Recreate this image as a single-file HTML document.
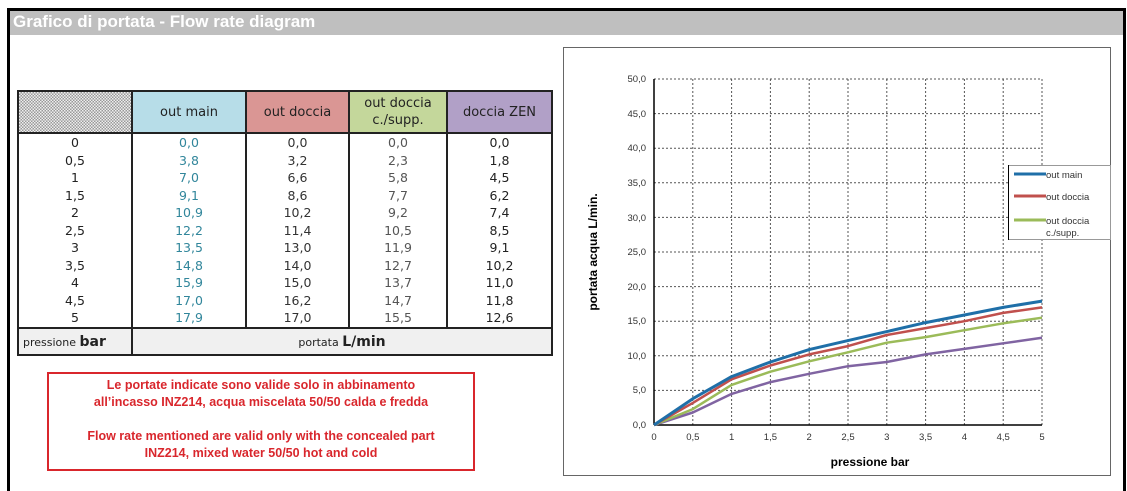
<!DOCTYPE html>
<html><head><meta charset="utf-8"><style>
body{margin:0;width:1127px;height:482px;background:#fff;position:relative;overflow:hidden;font-family:"Liberation Sans",sans-serif}
.abs{position:absolute}
table{border-collapse:collapse;position:absolute;left:17px;top:90px;font-family:"DejaVu Sans","Liberation Sans",sans-serif;font-size:12.5px;color:#222}
td{padding:0;text-align:center}
.hd td{height:40px;border:2px solid #222;font-size:13px}
.body td{border-left:2px solid #222;border-right:2px solid #222;line-height:17.5px;vertical-align:top}
.ft td{height:25px;border:2px solid #222;background:#f0f0f0}
</style></head><body>
<div class="abs" style="left:7px;top:8px;width:1113px;height:480px;border:3px solid #000;border-bottom:none"></div>
<div class="abs" style="left:10px;top:11px;width:1110px;height:24px;background:#bfbfbf;color:#fff;font-weight:bold;font-size:17px;line-height:22px;padding-left:3px">Grafico di portata - Flow rate diagram</div>

<table>
<tr class="hd"><td style="width:112px;background:repeating-conic-gradient(#999 0 25%,#eee 0 50%) 0 0/3px 3px"></td><td style="width:112px;background:#b7dde8">out main</td><td style="width:101px;background:#da9694">out doccia</td><td style="width:96px;background:#c4d79b;line-height:17px">out doccia<br>c./supp.</td><td style="width:103px;background:#b1a0c7">doccia ZEN</td></tr>
<tr class="body"><td style="padding-top:0;height:193px">0<br>0,5<br>1<br>1,5<br>2<br>2,5<br>3<br>3,5<br>4<br>4,5<br>5</td>
<td style="color:#31869b">0,0<br>3,8<br>7,0<br>9,1<br>10,9<br>12,2<br>13,5<br>14,8<br>15,9<br>17,0<br>17,9</td>
<td style="color:#333">0,0<br>3,2<br>6,6<br>8,6<br>10,2<br>11,4<br>13,0<br>14,0<br>15,0<br>16,2<br>17,0</td>
<td style="color:#555">0,0<br>2,3<br>5,8<br>7,7<br>9,2<br>10,5<br>11,9<br>12,7<br>13,7<br>14,7<br>15,5</td>
<td>0,0<br>1,8<br>4,5<br>6,2<br>7,4<br>8,5<br>9,1<br>10,2<br>11,0<br>11,8<br>12,6</td></tr>
<tr class="ft"><td style="font-size:11px;text-align:left;padding-left:4px">pressione <b style="font-size:14px">bar</b></td><td colspan="4" style="font-size:11px">portata <b style="font-size:14px">L/min</b></td></tr>
</table>

<div class="abs" style="left:47px;top:372px;width:424px;height:92px;border:2px solid #d9262c;color:#d9262c;font-weight:bold;font-size:12.5px;text-align:center;line-height:17px;padding-top:3px">Le portate indicate sono valide solo in abbinamento<br>all’incasso INZ214, acqua miscelata 50/50 calda e fredda<br><br>Flow rate mentioned are valid only with the concealed part<br>INZ214, mixed water 50/50 hot and cold</div>

<svg class="abs" style="left:0;top:0" width="1127" height="482" font-family="Liberation Sans,sans-serif">
<rect x="563.5" y="47.5" width="547" height="428" fill="none" stroke="#666"/>
<g stroke="#555" stroke-dasharray="2,2" stroke-width="1">
<line x1="654" x2="1042" y1="113.6" y2="113.6"/><line x1="654" x2="1042" y1="148.2" y2="148.2"/><line x1="654" x2="1042" y1="182.8" y2="182.8"/><line x1="654" x2="1042" y1="217.4" y2="217.4"/><line x1="654" x2="1042" y1="252" y2="252"/><line x1="654" x2="1042" y1="286.6" y2="286.6"/><line x1="654" x2="1042" y1="321.2" y2="321.2"/><line x1="654" x2="1042" y1="355.8" y2="355.8"/><line x1="654" x2="1042" y1="390.4" y2="390.4"/><line x1="654" x2="1042" y1="79" y2="79"/>
<line y1="79" y2="425" x1="692.8" x2="692.8"/><line y1="79" y2="425" x1="731.6" x2="731.6"/><line y1="79" y2="425" x1="770.4" x2="770.4"/><line y1="79" y2="425" x1="809.2" x2="809.2"/><line y1="79" y2="425" x1="848" x2="848"/><line y1="79" y2="425" x1="886.8" x2="886.8"/><line y1="79" y2="425" x1="925.6" x2="925.6"/><line y1="79" y2="425" x1="964.4" x2="964.4"/><line y1="79" y2="425" x1="1003.2" x2="1003.2"/><line y1="79" y2="425" x1="1042" x2="1042"/>
</g>
<line x1="654" x2="654" y1="79" y2="425" stroke="#000" stroke-width="1.5"/>
<line x1="654" x2="1042" y1="425" y2="425" stroke="#000" stroke-width="1.5"/>
<g font-size="9.5" fill="#333" text-anchor="end">
<text x="646" y="82">50,0</text><text x="646" y="117">45,0</text><text x="646" y="151">40,0</text><text x="646" y="186">35,0</text><text x="646" y="221">30,0</text><text x="646" y="255">25,0</text><text x="646" y="290">20,0</text><text x="646" y="324">15,0</text><text x="646" y="359">10,0</text><text x="646" y="393">5,0</text><text x="646" y="428">0,0</text>
</g>
<g font-size="9.5" fill="#333" text-anchor="middle">
<text x="654" y="440">0</text><text x="692.8" y="440">0,5</text><text x="731.6" y="440">1</text><text x="770.4" y="440">1,5</text><text x="809.2" y="440">2</text><text x="848" y="440">2,5</text><text x="886.8" y="440">3</text><text x="925.6" y="440">3,5</text><text x="964.4" y="440">4</text><text x="1003.2" y="440">4,5</text><text x="1042" y="440">5</text>
</g>
<text x="870" y="466" font-size="12" font-weight="bold" text-anchor="middle">pressione bar</text>
<text transform="translate(597,252) rotate(-90)" font-size="12" font-weight="bold" text-anchor="middle">portata acqua  L/min.</text>
<g fill="none" stroke-linejoin="round">
<polyline stroke="#8064a2" stroke-width="2.5" points="654,425 692.8,412.5 731.6,393.9 770.4,382.1 809.2,373.8 848,366.2 886.8,362 925.6,354.4 964.4,348.9 1003.2,343.3 1042,337.8"/>
<polyline stroke="#9bbb59" stroke-width="2.5" points="654,425 692.8,409.1 731.6,384.9 770.4,371.7 809.2,361.3 848,352.3 886.8,342.7 925.6,337.1 964.4,330.2 1003.2,323.3 1042,317.7"/>
<polyline stroke="#c0504d" stroke-width="2.5" points="654,425 692.8,402.9 731.6,379.3 770.4,365.5 809.2,354.4 848,346.1 886.8,335 925.6,328.1 964.4,321.2 1003.2,312.9 1042,307.4"/>
<polyline stroke="#1f6fa8" stroke-width="3" points="654,425 692.8,398.7 731.6,376.6 770.4,362 809.2,349.6 848,340.6 886.8,331.6 925.6,322.6 964.4,315 1003.2,307.4 1042,301.1"/>
</g>
<rect x="1008.5" y="165.5" width="102" height="74" fill="#fff" stroke="#999"/>
<line x1="1008.5" x2="1008.5" y1="165" y2="240" stroke="#000"/>
<line x1="1014" x2="1046" y1="174" y2="174" stroke="#1f6fa8" stroke-width="3"/>
<line x1="1014" x2="1046" y1="196" y2="196" stroke="#c0504d" stroke-width="3"/>
<line x1="1014" x2="1046" y1="220" y2="220" stroke="#9bbb59" stroke-width="3"/>
<g font-size="9.5" fill="#333"><text x="1046" y="178">out main</text><text x="1046" y="200">out doccia</text><text x="1046" y="224">out doccia</text><text x="1046" y="236">c./supp.</text></g>
</svg>
</body></html>
